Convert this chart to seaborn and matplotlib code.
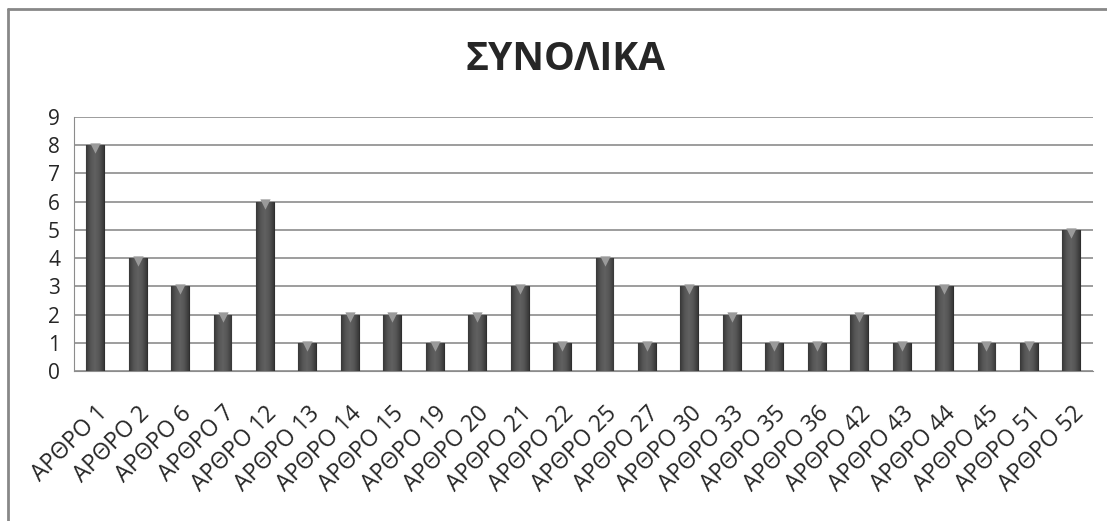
import numpy as np
import pandas as pd
import seaborn as sns
import matplotlib.pyplot as plt
from matplotlib.lines import Line2D
from matplotlib.colors import LinearSegmentedColormap

# Datos
articles = ["ΑΡΘΡΟ 1", "ΑΡΘΡΟ 2", "ΑΡΘΡΟ 6", "ΑΡΘΡΟ 7", "ΑΡΘΡΟ 12", "ΑΡΘΡΟ 13",
            "ΑΡΘΡΟ 14", "ΑΡΘΡΟ 15", "ΑΡΘΡΟ 19", "ΑΡΘΡΟ 20", "ΑΡΘΡΟ 21", "ΑΡΘΡΟ 22",
            "ΑΡΘΡΟ 25", "ΑΡΘΡΟ 27", "ΑΡΘΡΟ 30", "ΑΡΘΡΟ 33", "ΑΡΘΡΟ 35", "ΑΡΘΡΟ 36",
            "ΑΡΘΡΟ 42", "ΑΡΘΡΟ 43", "ΑΡΘΡΟ 44", "ΑΡΘΡΟ 45", "ΑΡΘΡΟ 51", "ΑΡΘΡΟ 52"]
counts = [8, 4, 3, 2, 6, 1, 2, 2, 1, 2, 3, 1, 4, 1, 3, 2, 1, 1, 2, 1, 3, 1, 1, 5]
y_ticks = list(range(0, 10))
title = "ΣΥΝΟΛΙΚΑ"

df = pd.DataFrame({"article": articles, "count": counts})

sns.set_style("white")
plt.rcParams["font.family"] = ["Open Sans", "DejaVu Sans"]

fig = plt.figure(figsize=(11.07, 5.21), dpi=100)
ax = fig.add_axes([0.0668, 0.288, 0.9202, 0.4874])

sns.barplot(data=df, x="article", y="count", color="#4d4d4d", width=0.42,
            saturation=1, edgecolor="#2e2e2e", linewidth=0.8, ax=ax, zorder=3)

# degradado tipo cilindro sobre cada barra
grad = LinearSegmentedColormap.from_list(
    "cyl", ["#383838", "#555555", "#616161", "#555555", "#383838"])
g = np.linspace(0, 1, 64).reshape(1, -1)
for patch in ax.patches:
    x0, y0 = patch.get_x(), patch.get_y()
    w, h = patch.get_width(), patch.get_height()
    im = ax.imshow(g, cmap=grad, aspect="auto", extent=[x0, x0 + w, y0, y0 + h],
                   zorder=3.5, interpolation="bilinear")
    im.set_clip_path(patch)
    ax.scatter([x0 + w / 2], [y0 + h - 0.1], marker="v", s=55,
               color="#9a9a9a", zorder=4, linewidths=0)

ax.set_xlim(-0.5, len(articles) - 0.5)
ax.set_ylim(0, 9)
ax.set_yticks(y_ticks)
ax.yaxis.grid(True, color="#8c8c8c", linewidth=1.2, zorder=0)
ax.set_axisbelow(True)

for side in ["top", "right"]:
    ax.spines[side].set_visible(False)
ax.spines["left"].set_color("#8c8c8c")
ax.spines["bottom"].set_color("#8c8c8c")

# marcas del eje x entre categorías
ax.set_xticks(np.arange(len(articles)))
ax.set_xticks(np.arange(-0.5, len(articles), 1), minor=True)
ax.tick_params(axis="x", which="major", length=0, pad=22)
ax.tick_params(axis="x", which="minor", length=6, color="#8c8c8c", width=1)
ax.tick_params(axis="y", length=0, labelsize=15, pad=10)
ax.set_xticklabels(articles, rotation=45, ha="right", rotation_mode="anchor",
                   fontsize=16.5)
ax.set_xlabel("")
ax.set_ylabel("")

fig.text(0.511, 0.885, title, ha="center", va="center", fontsize=28,
         fontweight="bold")

# marco del gráfico
fig.add_artist(Line2D([0.0072, 1.0], [0.9825, 0.9825], color="#888888", lw=2,
                      transform=fig.transFigure))
fig.add_artist(Line2D([0.0072, 0.0072], [0.0, 0.9825], color="#888888", lw=2,
                      transform=fig.transFigure))

fig.savefig("out.png", dpi=100)
